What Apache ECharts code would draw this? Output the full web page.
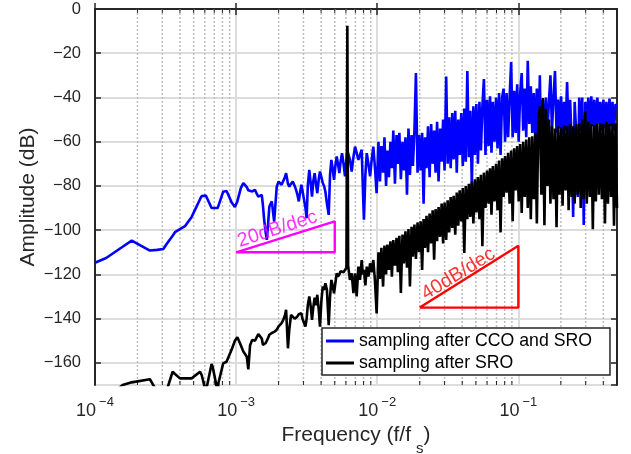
<!DOCTYPE html>
<html><head><meta charset="utf-8">
<script src="https://cdn.jsdelivr.net/npm/echarts@6/dist/echarts.min.js"></script>
<style>html,body{margin:0;padding:0;background:#fff}#c{width:631px;height:454px}</style>
</head><body><div id="c"></div>
<script>
// ---------- data ----------
const freqLow = [1.0e-4, 1.2e-4, 1.57e-4, 1.82e-4, 2.45e-4, 2.75e-4, 3.05e-4, 3.2e-4, 3.55e-4, 3.69e-4,
  4.0e-4, 4.34e-4, 4.84e-4, 5.55e-4, 5.7e-4, 6.1e-4, 6.7e-4, 6.83e-4, 7.4e-4, 7.5e-4,
  8.1e-4, 8.55e-4, 8.8e-4, 9.3e-4, 9.8e-4];
const blueLow = [-114.7, -112.6, -107.5, -104.7, -109.2, -108.9, -108.5, -106.5, -102.5, -100.9,
  -99.5, -98.2, -94, -86, -84.6, -84.3, -90, -90.7, -90, -89.9,
  -82.6, -82.3, -84, -87.5, -89.5];
const blackLow = [-178, -176, -170, -168.8, -167.4, -173, -173, -173, -164, -165,
  -167, -167, -167, -164, -165.5, -173, -160.5, -162, -173, -169,
  -160.2, -159.5, -158.7, -154, -150];

const freqMid = [1.02e-3, 1.08e-3, 1.125e-3, 1.19e-3, 1.22e-3, 1.256e-3, 1.30e-3, 1.36e-3, 1.40e-3, 1.436e-3,
  1.48e-3, 1.52e-3, 1.55e-3, 1.58e-3, 1.62e-3, 1.65e-3, 1.69e-3, 1.72e-3, 1.79e-3, 1.86e-3,
  1.94e-3, 2.0e-3, 2.05e-3, 2.1e-3, 2.16e-3, 2.22e-3, 2.26e-3, 2.33e-3, 2.38e-3, 2.45e-3,
  2.52e-3, 2.6e-3, 2.66e-3, 2.72e-3, 2.78e-3, 2.84e-3, 2.9e-3, 2.95e-3, 3.03e-3, 3.1e-3,
  3.16e-3, 3.22e-3, 3.3e-3, 3.38e-3, 3.45e-3, 3.52e-3, 3.6e-3, 3.68e-3, 3.76e-3, 3.85e-3,
  3.93e-3, 4.02e-3, 4.11e-3, 4.2e-3, 4.29e-3, 4.4e-3, 4.53e-3, 4.63e-3, 4.73e-3, 4.83e-3,
  4.94e-3, 5.05e-3, 5.16e-3, 5.27e-3, 5.39e-3, 5.5e-3, 5.63e-3, 5.77e-3, 5.91e-3, 6.05e-3,
  6.14e-3, 6.22e-3, 6.4e-3, 6.59e-3, 6.78e-3, 6.96e-3, 7.15e-3, 7.35e-3, 7.55e-3, 7.76e-3,
  7.9e-3, 8.05e-3, 8.24e-3, 8.43e-3, 8.66e-3, 8.9e-3, 9.14e-3, 9.38e-3, 9.64e-3, 9.9e-3];
const blueMid = [-87, -81, -78.7, -80.5, -82, -81.8, -82.5, -81.8, -83.5, -84.8,
  -84, -84, -89, -95.3, -101, -104.4, -96, -89.3, -87, -96.1,
  -80.3, -78, -77.2, -79.5, -78.7, -76, -74.2, -79, -80.3, -79,
  -78, -80, -81.8, -84, -87, -83, -79.5, -82, -86.3, -90,
  -94.6, -80, -72.7, -79, -84.8, -78, -74.2, -79, -83.3, -77,
  -73.5, -76, -78.7, -80, -82.5, -88, -93.1, -75, -68.2, -72,
  -77.2, -71, -66.7, -70, -74.2, -69, -65.2, -70, -75.7, -68,
  -64, -63.6, -68, -73.5, -67, -62.2, -65, -68.2, -66, -63.6,
  -80, -95.3, -75, -65.2, -70, -75.7, -68, -62.2, -72, -83.3];
const blackMid = [-148.4, -152, -154.9, -157.2, -162.9, -152, -149.6, -150, -149.4, -147,
  -146.6, -149, -151.9, -151.5, -151, -150, -148.5, -147.3, -146.5, -146,
  -145, -143.5, -142.8, -142, -140.5, -138.5, -136, -153.4, -145, -138.3,
  -139, -140, -140.5, -139, -138, -137.5, -137.5, -140, -142, -143.6,
  -140, -134, -130, -134.6, -140.6, -135, -130.5, -134, -129.2, -136,
  -143.6, -132, -125.5, -127, -124, -127, -143, -130, -122.5, -125,
  -128.5, -124, -119.5, -121, -120, -118.5, -118, -119, -118, -117,
  -7.6, -116, -122.5, -119.5, -128.5, -119.5, -130, -116.5, -122.5, -113.5,
  -120, -118, -125, -116.5, -121, -115, -119, -113.5, -123, -137.6];

const freqHigh = [0.0102, 0.01045, 0.0107, 0.0110, 0.01125, 0.01155, 0.0118, 0.0121, 0.0124, 0.0127,
  0.0130, 0.01335, 0.0137, 0.0140, 0.01435, 0.0147, 0.0151, 0.01545, 0.01585, 0.01625,
  0.01665, 0.01705, 0.0175, 0.0179, 0.01835, 0.0188, 0.0193, 0.0198, 0.0203, 0.0208,
  0.0213, 0.0218, 0.02235, 0.0229, 0.0235, 0.0241, 0.0247, 0.0253, 0.0259, 0.02655,
  0.0272, 0.0279, 0.0286, 0.0293, 0.0300, 0.0308, 0.03155, 0.03235, 0.03315, 0.0340,
  0.0348, 0.0357, 0.0366, 0.0375, 0.0384, 0.0394, 0.0404, 0.0414, 0.0424, 0.0435,
  0.0446, 0.0457, 0.0468, 0.0480, 0.0492, 0.0504, 0.0517, 0.0530, 0.0543, 0.0556,
  0.0570, 0.0585, 0.0600, 0.0615, 0.0630, 0.0645, 0.0660, 0.0678, 0.0695, 0.0712,
  0.0730, 0.0748, 0.0767, 0.0786, 0.0805, 0.0825, 0.0846, 0.0867, 0.0889, 0.0911,
  0.0934, 0.0957, 0.0981, 0.1005, 0.1030, 0.1056, 0.1082, 0.1110, 0.1137, 0.1166,
  0.1195, 0.1225, 0.1255, 0.1287, 0.1319, 0.1352, 0.1386, 0.1420, 0.1456, 0.1492,
  0.1530, 0.1568, 0.1607, 0.1647, 0.1688, 0.1730, 0.1774, 0.1818, 0.1864, 0.1910,
  0.1958, 0.2007, 0.2057, 0.2109, 0.2161, 0.2215, 0.2271, 0.2327, 0.2386, 0.2445,
  0.2506, 0.2569, 0.2633, 0.2699, 0.2767, 0.2836, 0.2906, 0.2979, 0.3054, 0.3130,
  0.3208, 0.3288, 0.3370, 0.3455, 0.3541, 0.3630, 0.3720, 0.3813, 0.3909, 0.4006,
  0.4106, 0.4209, 0.4314, 0.4422, 0.4533, 0.4646, 0.4762, 0.4881, 0.5000];
const blueHigh = [-60, -78, -62, -74, -58, -80, -64, -76, -60, -72,
  -55, -79, -57, -70, -56, -77, -60, -73, -58, -84,
  -54, -75, -57, -71, -55, -29, -74, -57, -73, -56,
  -88, -58, -72, -53, -76, -52, -70, -55, -74, -51,
  -78, -54, -69, -50, -73, -30.5, -70, -49, -72, -47,
  -68, -46, -74, -50, -66, -47, -71, -45, -69, -28,
  -67, -46, -80, -44, -66, -43, -70, -42, -64, -44,
  -31.7, -66, -41, -62, -39.5, -65, -42, -60, -40, -63,
  -38, -66, -40, -36, -60, -38, -58, -40, -24, -58,
  -37, -56, -34, -60, -38, -29, -55, -36, -58, -23.4,
  -52, -35, -56, -38, -60, -36, -62, -30, -75, -41,
  -58, -40, -56, -42, -30, -55, -40, -28, -56, -41,
  -54, -39.5, -57, -42, -55, -33, -58, -41, -60, -94,
  -42, -56, -85, -40, -55, -40, -97.6, -42, -54, -40,
  -56, -39.5, -53, -41, -57, -40, -52, -42, -55, -41,
  -54, -42, -56, -40.5, -53, -42, -55, -43, -44];
const blackHigh = [-110, -122, -108, -125.5, -107, -120, -106.5, -118, -105, -121,
  -104.5, -116, -103.5, -119, -102.5, -128.4, -102, -115, -100.5, -117,
  -99.5, -125.4, -98.5, -112, -97.5, -113, -96.5, -110, -96, -118,
  -95, -108, -93.5, -110, -92.5, -106, -91, -113.3, -90.5, -105,
  -89.5, -103, -88, -106, -87.5, -104.4, -86.5, -101, -85, -99,
  -84.5, -102, -83, -98, -82, -96, -81, -110.3, -80, -95,
  -79, -94, -78, -97, -77, -92, -76, -95, -75, -107.3,
  -74, -90, -73, -88, -72, -93, -71, -87, -70, -91,
  -68.5, -101, -67.5, -85, -66.5, -83, -65, -88, -64, -96,
  -63, -82, -62, -87, -61, -92.2, -60, -85, -59, -90,
  -58, -95, -57.5, -86, -56, -97, -50, -44, -84, -40.3,
  -97.8, -45, -80, -50, -88, -53, -86, -54, -98.7, -53,
  -84, -53.5, -89, -52.5, -82, -53, -91, -52, -85, -53,
  -88, -52, -84, -51.5, -90, -50, -86, -46.3, -88, -51,
  -85, -52, -99.6, -52.5, -87, -52, -84, -51.5, -86, -52,
  -97, -51, -88, -52, -85, -51.5, -98, -51.7, -90];

const slope20Freq = [1e-3, 5e-3, 5e-3, 1e-3];
const slope20dB = [-110, -110, -96, -110];
const slope40Freq = [0.02, 0.1, 0.1, 0.02];
const slope40dB = [-135, -135, -107, -135];

const minorTicks = [2e-4, 3e-4, 4e-4, 5e-4, 6e-4, 7e-4, 8e-4, 9e-4,
  2e-3, 3e-3, 4e-3, 5e-3, 6e-3, 7e-3, 8e-3, 9e-3,
  2e-2, 3e-2, 4e-2, 5e-2, 6e-2, 7e-2, 8e-2, 9e-2,
  0.2, 0.3, 0.4];

const seriesNames = ['sampling after CCO and SRO', 'sampling after SRO'];
const xMin = 1e-4, xMax = 0.5, yMin = -170, yMax = 0;

// ---------- build ----------
function pairs(fs, vs) { return fs.map((f, i) => [f, vs[i]]); }
const freqAll = freqLow.concat(freqMid, freqHigh);
const blueAll = blueLow.concat(blueMid, blueHigh);
const blackAll = blackLow.concat(blackMid, blackHigh);

const FONT = '"Liberation Sans", Arial, Helvetica, sans-serif';
const AX = '#262626';

const chart = echarts.init(document.getElementById('c'), null, {renderer: 'canvas'});
const xAxisBase = {
  type: 'log', logBase: 10, min: xMin, max: xMax,
  axisLine: {show: true, lineStyle: {color: AX, width: 2}},
  axisTick: {show: true, inside: true, length: 6, lineStyle: {color: AX, width: 1.5}},
  minorTick: {show: false}
};
const yAxisBase = {
  type: 'value', min: yMin, max: yMax, minInterval: 20, maxInterval: 20,
  axisLine: {show: true, onZero: false, lineStyle: {color: AX, width: 2}},
  axisTick: {show: true, inside: true, length: 6, lineStyle: {color: AX, width: 1.5}}
};

chart.setOption({
  animation: false,
  backgroundColor: '#ffffff',
  grid: {left: 95, right: 14, top: 9, bottom: 69, containLabel: false, outerBoundsMode: 'none'},
  legend: {
    data: seriesNames.map(n => ({name: n, icon: 'rect'})),
    orient: 'vertical',
    left: 322, top: 328,
    padding: [3, 18, 2, 4],
    itemGap: 2,
    itemWidth: 28, itemHeight: 3,
    backgroundColor: '#ffffff',
    borderColor: AX, borderWidth: 1.5, borderRadius: 0,
    textStyle: {fontFamily: FONT, fontSize: 17.7, color: '#000', lineHeight: 20},
    selectedMode: false
  },
  xAxis: [
    Object.assign({}, xAxisBase, {
      position: 'bottom',
      name: '{a|Frequency (f/f}{s|s}{a|)}',
      nameLocation: 'middle', nameGap: 38,
      nameTextStyle: {
        color: AX, fontFamily: FONT,
        rich: {
          a: {fontSize: 21, fontFamily: FONT, color: AX, lineHeight: 24, verticalAlign: 'top'},
          s: {fontSize: 15, fontFamily: FONT, color: AX, lineHeight: 31, verticalAlign: 'bottom', padding: [0, 0, 0, 5]}
        }
      },
      axisLabel: {
        show: true, margin: 11, showMaxLabel: false,
        formatter: function (v) {
          const e = Math.round(Math.log10(v));
          return '{b|10}{e|' + (e < 0 ? '\u2212' : '') + Math.abs(e) + '}';
        },
        rich: {
          b: {fontSize: 18, fontFamily: FONT, color: AX, lineHeight: 30},
          e: {fontSize: 13, fontFamily: FONT, color: AX, lineHeight: 10, verticalAlign: 'top', padding: [0, 0, 0, 3]}
        }
      },
      splitLine: {show: true, lineStyle: {color: '#dcdcdc', width: 2}}
    }),
    Object.assign({}, xAxisBase, {
      position: 'top',
      axisLabel: {show: false},
      splitLine: {show: false}
    })
  ],
  yAxis: [
    Object.assign({}, yAxisBase, {
      position: 'left',
      name: 'Amplitude (dB)', nameLocation: 'middle', nameGap: 56, nameMoveOverlap: false,
      nameTextStyle: {fontSize: 21, fontFamily: FONT, color: AX},
      axisLabel: {
        show: true, margin: 14, showMinLabel: false,
        fontSize: 16.5, fontFamily: FONT, color: AX,
        formatter: function (v) { return v < 0 ? '\u2212' + (-v) : String(v); }
      },
      splitLine: {show: true, lineStyle: {color: '#dcdcdc', width: 2}}
    }),
    Object.assign({}, yAxisBase, {
      position: 'right',
      axisLabel: {show: false},
      splitLine: {show: false}
    })
  ],
  series: [
    {
      type: 'custom', name: 'minorGrid', silent: true, z: 1,
      xAxisIndex: 0, yAxisIndex: 0,
      data: minorTicks.map(v => [v, yMax]),
      encode: {x: 0, y: 1},
      renderItem: function (params, api) {
        const v = api.value(0);
        const top = api.coord([v, yMax]);
        const bot = api.coord([v, yMin]);
        return {
          type: 'group', children: [
            {type: 'line', shape: {x1: top[0], y1: top[1], x2: bot[0], y2: bot[1]},
              style: {stroke: '#bdbdbd', lineWidth: 1.5, lineDash: [2, 2]}},
            {type: 'line', shape: {x1: top[0], y1: top[1], x2: top[0], y2: top[1] + 4},
              style: {stroke: AX, lineWidth: 1}},
            {type: 'line', shape: {x1: bot[0], y1: bot[1], x2: bot[0], y2: bot[1] - 4},
              style: {stroke: AX, lineWidth: 1}}
          ]
        };
      }
    },
    {
      type: 'line', name: seriesNames[0], data: pairs(freqAll, blueAll),
      showSymbol: false, symbol: 'none', z: 2,
      lineStyle: {color: '#0000ff', width: 2.6}, itemStyle: {color: '#0000ff'}
    },
    {
      type: 'line', name: seriesNames[1], data: pairs(freqAll, blackAll),
      showSymbol: false, symbol: 'none', z: 3,
      lineStyle: {color: '#000000', width: 2.6}, itemStyle: {color: '#000000'}
    },
    {
      type: 'line', name: 'slope20', data: pairs(slope20Freq, slope20dB),
      showSymbol: false, symbol: 'none', z: 4,
      lineStyle: {color: '#ff00ff', width: 2.4}
    },
    {
      type: 'line', name: 'slope40', data: pairs(slope40Freq, slope40dB),
      showSymbol: false, symbol: 'none', z: 4,
      lineStyle: {color: '#ff0000', width: 2.4}
    },
    {
      type: 'scatter', name: 'labels', z: 5, silent: true,
      symbolSize: 1, itemStyle: {color: 'rgba(0,0,0,0)'},
      data: [
        {value: [1.96e-3, -99.5], label: {formatter: '20dB/dec', rotate: 18, color: '#ff00ff'}},
        {value: [0.0376, -119.8], label: {formatter: '40dB/dec', rotate: 31.5, color: '#ff0000'}}
      ],
      label: {show: true, position: 'inside', fontSize: 19.5, fontFamily: FONT, align: 'center', verticalAlign: 'middle'}
    }
  ]
});
</script>
</body></html>
